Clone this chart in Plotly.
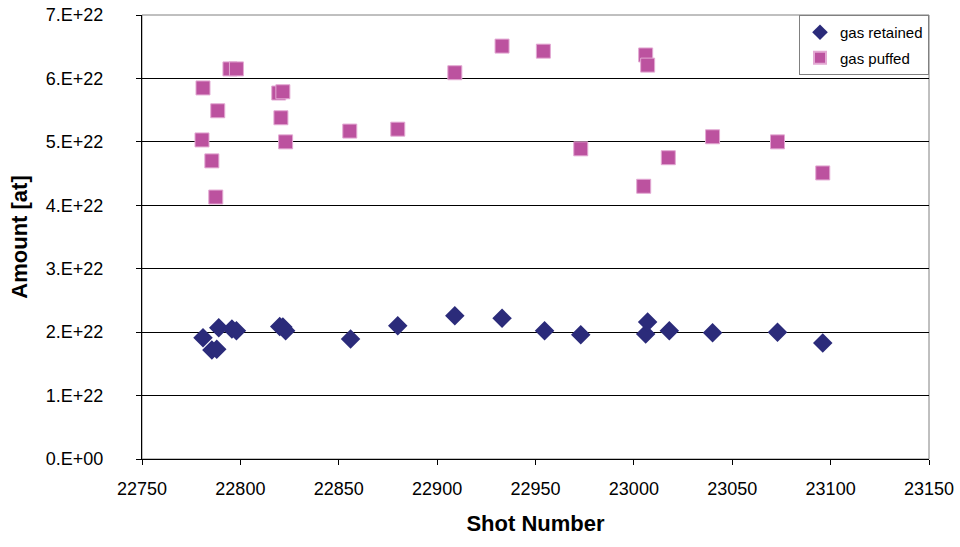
import plotly.graph_objects as go

# gas puffed
puffed_shot = [22780.5, 22781, 22785.5, 22787.5, 22788.5, 22794.7, 22798, 22819.5, 22821.6, 22820.6,
               22823, 22855.6, 22880, 22909, 22933, 22954, 22973, 23005, 23006, 23007,
               23017.5, 23040, 23073, 23096]
puffed_amt = [5.03e22, 5.85e22, 4.70e22, 4.13e22, 5.49e22, 6.15e22, 6.15e22, 5.77e22, 5.79e22, 5.38e22,
              5.00e22, 5.17e22, 5.20e22, 6.09e22, 6.51e22, 6.43e22, 4.89e22, 4.30e22, 6.37e22, 6.21e22,
              4.75e22, 5.08e22, 5.00e22, 4.51e22]

# gas retained
retained_shot = [22781, 22785.5, 22788, 22789, 22795.7, 22798, 22820, 22821.6, 22823, 22856,
                 22880, 22909, 22933, 22954.6, 22973, 23006, 23007, 23018, 23040, 23073, 23096]
retained_amt = [1.91e22, 1.72e22, 1.73e22, 2.07e22, 2.05e22, 2.02e22, 2.09e22, 2.08e22, 2.02e22, 1.89e22,
                2.10e22, 2.26e22, 2.22e22, 2.02e22, 1.96e22, 1.97e22, 2.16e22, 2.02e22, 1.99e22, 2.00e22, 1.83e22]

y_ticks = [0, 1e22, 2e22, 3e22, 4e22, 5e22, 6e22, 7e22]
y_labels = ["0.E+00", "1.E+22", "2.E+22", "3.E+22", "4.E+22", "5.E+22", "6.E+22", "7.E+22"]
x_ticks = [22750, 22800, 22850, 22900, 22950, 23000, 23050, 23100, 23150]

fig = go.Figure()
fig.add_trace(go.Scatter(
    x=retained_shot, y=retained_amt, mode="markers", name="gas retained", legendgroup="a",
    marker=dict(symbol="diamond", size=15, color="#2B2B7A", line=dict(width=0))))
fig.add_trace(go.Scatter(
    x=puffed_shot, y=puffed_amt, mode="markers", name="gas puffed", legendgroup="b",
    marker=dict(symbol="square", size=14, color="#BC529F", line=dict(width=1, color="#E3A9D3"))))

fig.update_layout(
    width=960, height=547,
    margin=dict(l=142, r=31, t=15, b=88, autoexpand=False),
    paper_bgcolor="white", plot_bgcolor="white",
    font=dict(family="Liberation Sans, Arial, sans-serif", color="black", size=18),
    showlegend=True,
    legend=dict(x=1, xanchor="right", y=1, yanchor="top",
                bordercolor="#808080", borderwidth=1, bgcolor="white",
                font=dict(size=15), tracegroupgap=3, itemsizing="constant"),
    shapes=[dict(type="rect", xref="paper", yref="paper", x0=0, x1=1, y0=0, y1=1,
                 line=dict(color="#808080", width=1), layer="below")],
    xaxis=dict(range=[22750, 23150], tickvals=x_ticks, ticktext=[str(v) for v in x_ticks],
               showgrid=False, zeroline=False, showline=True, linecolor="black", linewidth=1,
               ticks="outside", ticklen=5, tickcolor="black", ticklabelstandoff=8, automargin=False,
               title=dict(text="<b>Shot Number</b>", font=dict(size=22), standoff=18)),
    yaxis=dict(range=[0, 7e22], tickvals=y_ticks, ticktext=y_labels,
               showgrid=True, gridcolor="black", gridwidth=1, zeroline=False,
               showline=True, linecolor="black", linewidth=1, automargin=False,
               ticks="outside", ticklen=5, tickcolor="black", ticklabelstandoff=29,
               title=dict(text="<b>Amount [at]</b>", font=dict(size=22), standoff=12)),
)

fig.write_html("out.html")
